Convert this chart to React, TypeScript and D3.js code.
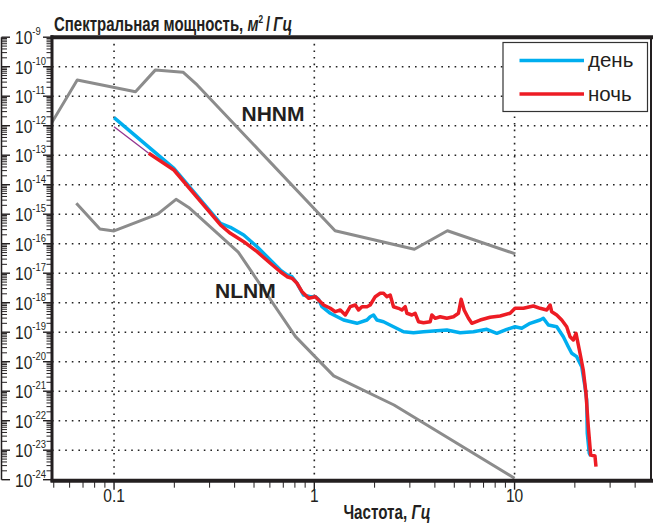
import * as d3 from "d3"

// NHNM / NLNM model curves (Hz, m^2/Hz)
const nhnm: [number, number][] = [
  [0.049, 1.3e-12], [0.0655, 3.55e-11], [0.128, 1.41e-11], [0.161, 7.8e-11],
  [0.221, 6.5e-11], [0.26, 2.4e-11], [1.27, 2.75e-16], [3.16, 6.5e-17],
  [4.62, 2.75e-16], [10.1, 4.5e-17],
]
const nlnm: [number, number][] = [
  [0.0648, 2.34e-15], [0.085, 3.16e-16], [0.1, 2.7e-16], [0.165, 1e-15],
  [0.204, 3.2e-15], [0.236, 1.7e-15], [0.417, 5.2e-17], [0.806, 7.1e-20],
  [1.25, 3.3e-21], [2.5, 3.4e-22], [10, 1.12e-24],
]

// measured spectra
const day: [number, number][] = [
  [0.1, 1.87e-12], [0.199, 3.6e-14], [0.34, 4.9e-16], [0.381, 3.6e-16],
  [0.444, 1.97e-16], [0.518, 7.9e-17], [0.603, 2.8e-17], [0.677, 1.28e-17],
  [0.731, 8.69e-18], [0.774, 7.6e-18], [0.82, 4.55e-18], [0.884, 1.82e-18],
  [0.955, 1.6e-18], [1.012, 1.6e-18], [1.05, 1.3e-18], [1.092, 7.31e-19],
  [1.202, 4.38e-19], [1.4, 2.59e-19], [1.633, 2.0e-19], [1.832, 2.59e-19],
  [1.902, 3.35e-19], [1.976, 3.83e-19], [2.054, 2.59e-19], [2.216, 2.27e-19],
  [2.486, 1.53e-19], [2.789, 1.04e-19], [3.128, 9.6e-20], [3.509, 1.04e-19],
  [3.936, 1.1e-19], [4.59, 1.19e-19], [5.349, 9.6e-20], [6.231, 1.04e-19],
  [7.266, 1.25e-19], [8.152, 9.18e-20], [9.145, 1.25e-19], [10.06, 1.53e-19],
  [10.86, 1.36e-19], [11.95, 2.0e-19], [13.41, 2.59e-19], [13.92, 2.96e-19],
  [14.75, 1.75e-19], [16.24, 1.53e-19], [17.52, 7.03e-20], [18.55, 3.22e-20],
  [19.29, 1.93e-20], [20.43, 1.48e-20], [21.64, 6.78e-21], [22.47, 1.42e-21],
  [22.91, 5.04e-22], [23.07, 3.74e-23], [23.61, 7.85e-24], [23.99, 6.35e-24],
]
const nightLow: [number, number][] = [[0.1, 9.25e-13], [0.149, 1.16e-13]]
const night: [number, number][] = [
  [0.149, 1.16e-13], [0.199, 3.15e-14], [0.34, 4.31e-16], [0.381, 2.25e-16],
  [0.444, 1.17e-16], [0.518, 5.36e-17], [0.603, 2.17e-17], [0.677, 1.12e-17],
  [0.731, 7.6e-18], [0.774, 6.71e-18], [0.82, 4.55e-18], [0.868, 2.36e-18],
  [0.937, 1.41e-18], [1.012, 1.6e-18], [1.05, 1.24e-18], [1.113, 8.36e-19],
  [1.202, 6.46e-19], [1.273, 4.95e-19], [1.348, 5.66e-19], [1.428, 3.83e-19],
  [1.512, 7.31e-19], [1.602, 8.36e-19], [1.663, 5.66e-19], [1.73, 7.31e-19],
  [1.832, 7.31e-19], [1.902, 8.36e-19], [2.015, 1.6e-18], [2.134, 2.08e-18],
  [2.216, 2.08e-18], [2.305, 1.6e-18], [2.393, 1.82e-18], [2.486, 7.31e-19],
  [2.633, 6.46e-19], [2.738, 5.66e-19], [2.844, 7.31e-19], [2.9, 4.38e-19],
  [3.071, 3.83e-19], [3.189, 4.38e-19], [3.313, 2.27e-19], [3.509, 2.1e-19],
  [3.79, 2.27e-19], [3.864, 3.83e-19], [4.013, 2.96e-19], [4.25, 3.35e-19],
  [4.59, 2.96e-19], [4.953, 3.35e-19], [5.245, 4.38e-19], [5.41, 1.3e-18],
  [5.6, 5.66e-19], [5.884, 2.96e-19], [6.117, 2.0e-19], [6.73, 2.59e-19],
  [7.547, 3.2e-19], [8.467, 3.54e-19], [9.497, 4.38e-19], [10.06, 6.46e-19],
  [11.07, 6.46e-19], [12.41, 7.73e-19], [13.41, 6.46e-19], [14.48, 5.66e-19],
  [15.04, 8.36e-19], [15.33, 4.95e-19], [16.24, 3.83e-19], [17.2, 2.59e-19],
  [18.21, 1.53e-19], [18.92, 7.03e-20], [19.65, 5.45e-20], [20.27, 9.18e-20],
  [21.22, 1.93e-20], [22.03, 5.24e-21], [22.73, 8.49e-22], [23.34, 6.27e-23],
  [23.8, 1.32e-23], [23.99, 6.87e-24], [25.2, 6.35e-24], [25.5, 2.76e-24],
]

const yExponents = d3.range(-9, -25, -1)
const xMajor = [0.1, 1, 10]
const xLabels = ["0.1", "1", "10"]
const legendItems = [
  { label: "день", color: "#00aeef" },
  { label: "ночь", color: "#ed1c24" },
]

const W = 653
const H = 523
const left = 52
const right = 651
const top = 37.2
const bottom = 479.7

const sans = "'Liberation Sans', Arial, sans-serif"
const ink = "#231f20"
const squeeze = 0.82 // condensed look for the axis type

export default function App() {
  const x = d3.scaleLog().domain([0.049, 48]).range([left, right])
  const y = d3.scaleLog().domain([1e-24, 1e-9]).range([bottom, top])
  const line = d3
    .line<[number, number]>()
    .x((d) => x(d[0]))
    .y((d) => y(d[1]))

  // minor ticks
  const yMinor: number[] = []
  for (let e = -24; e < -9; e++) for (let k = 2; k <= 9; k++) yMinor.push(k * 10 ** e)
  const xMinor: number[] = []
  for (let e = -2; e <= 1; e++)
    for (let k = 2; k <= 9; k++) {
      const v = k * 10 ** e
      if (v >= 0.049 && v <= 48) xMinor.push(v)
    }

  return (
    <svg
      width={W}
      height={H}
      style={{ position: "absolute", left: 0, top: 0, background: "#fff" }}
    >
      <defs>
        <clipPath id="plot">
          <rect x={left} y={top} width={right - left} height={bottom - top} />
        </clipPath>
      </defs>

      {/* grid */}
      {yExponents.slice(1, -1).map((e) => (
        <line
          key={"gy" + e}
          x1={left}
          x2={right}
          y1={y(10 ** e)}
          y2={y(10 ** e)}
          stroke="#222"
          strokeWidth={1.6}
          strokeDasharray="1.6 5"
        />
      ))}
      {xMajor.map((v) => (
        <line
          key={"gx" + v}
          x1={x(v)}
          x2={x(v)}
          y1={top}
          y2={bottom}
          stroke="#222"
          strokeWidth={1.6}
          strokeDasharray="1.6 5"
        />
      ))}

      {/* curves */}
      <g clipPath="url(#plot)" fill="none" strokeLinejoin="round">
        <path d={line(nhnm) ?? ""} stroke="#8c8c8c" strokeWidth={3} />
        <path d={line(nlnm) ?? ""} stroke="#8c8c8c" strokeWidth={3} />
        <path d={line(day) ?? ""} stroke="#00aeef" strokeWidth={3.5} />
        <path d={line(nightLow) ?? ""} stroke="#93358f" strokeWidth={1.3} />
        <path d={line(night) ?? ""} stroke="#ed1c24" strokeWidth={3.5} />
      </g>

      <text x={241.5} y={120.7} fontFamily={sans} fontWeight="bold" fontSize={21} fill={ink}>
        NHNM
      </text>
      <text x={215} y={298} fontFamily={sans} fontWeight="bold" fontSize={21} fill={ink}>
        NLNM
      </text>

      {/* legend */}
      <rect x={503} y={42.5} width={144.5} height={69} fill="#fff" stroke="#333" strokeWidth={1.2} />
      {legendItems.map((d, i) => (
        <g key={d.label}>
          <line x1={519.5} x2={584} y1={60.5 + i * 33.5} y2={60.5 + i * 33.5} stroke={d.color} strokeWidth={3.5} />
          <text x={588} y={67 + i * 33.5} fontFamily={sans} fontSize={20.5} fill={ink}>
            {d.label}
          </text>
        </g>
      ))}

      {/* frame */}
      <line x1={left} x2={left} y1={top - 2} y2={bottom + 2} stroke={ink} strokeWidth={3} />
      <line x1={right} x2={right} y1={top} y2={bottom} stroke={ink} strokeWidth={2} />
      <line x1={left - 1.5} x2={W} y1={top} y2={top} stroke={ink} strokeWidth={4} />
      <line x1={left - 1.5} x2={W} y1={bottom + 1} y2={bottom + 1} stroke={ink} strokeWidth={4} />

      {/* y axis ticks, both on the frame and on the outer rule */}
      <line x1={1.5} x2={1.5} y1={top} y2={bottom} stroke={ink} strokeWidth={1.5} />
      {yMinor.map((v, i) => (
        <g key={"ym" + i} stroke={ink} strokeWidth={1}>
          <line x1={left - 5.5} x2={left} y1={y(v)} y2={y(v)} />
          <line x1={1.5} x2={7} y1={y(v)} y2={y(v)} />
        </g>
      ))}
      {yExponents.map((e) => (
        <g key={"yM" + e} stroke={ink} strokeWidth={1.4}>
          <line x1={left - 9} x2={left} y1={y(10 ** e)} y2={y(10 ** e)} />
          <line x1={1.5} x2={10} y1={y(10 ** e)} y2={y(10 ** e)} />
        </g>
      ))}
      {yExponents.map((e) => (
        <text
          key={"yl" + e}
          transform={`translate(15,${y(10 ** e) + 7}) scale(${squeeze},1)`}
          fontFamily={sans}
          fontSize={19}
          fill={ink}
        >
          10
          <tspan dy={-9} fontSize={11.5}>
            {e}
          </tspan>
        </text>
      ))}

      {/* x axis ticks */}
      {xMinor.map((v, i) => (
        <line key={"xm" + i} x1={x(v)} x2={x(v)} y1={bottom + 2} y2={bottom + 8} stroke={ink} strokeWidth={1} />
      ))}
      {xMajor.map((v, i) => (
        <g key={"xM" + v}>
          <line x1={x(v)} x2={x(v)} y1={bottom + 2} y2={bottom + 10} stroke={ink} strokeWidth={1.4} />
          <text
            transform={`translate(${x(v)},502) scale(${squeeze},1)`}
            textAnchor="middle"
            fontFamily={sans}
            fontSize={19}
            fill={ink}
          >
            {xLabels[i]}
          </text>
        </g>
      ))}

      {/* axis titles */}
      <text
        transform="translate(54,30.5) scale(0.75,1)"
        fontFamily={sans}
        fontWeight="bold"
        fontSize={20}
        fill={ink}
      >
        Спектральная мощность,{" "}
        <tspan fontStyle="italic">м</tspan>
        <tspan dy={-8} fontSize={11}>2</tspan>
        <tspan dy={8}>{"\u2009/\u2009"}</tspan>
        <tspan fontStyle="italic">Гц</tspan>
      </text>
      <text
        transform="translate(387,519) scale(0.76,1)"
        textAnchor="middle"
        fontFamily={sans}
        fontWeight="bold"
        fontSize={20}
        fill={ink}
      >
        Частота, <tspan fontStyle="italic">Гц</tspan>
      </text>
    </svg>
  )
}
